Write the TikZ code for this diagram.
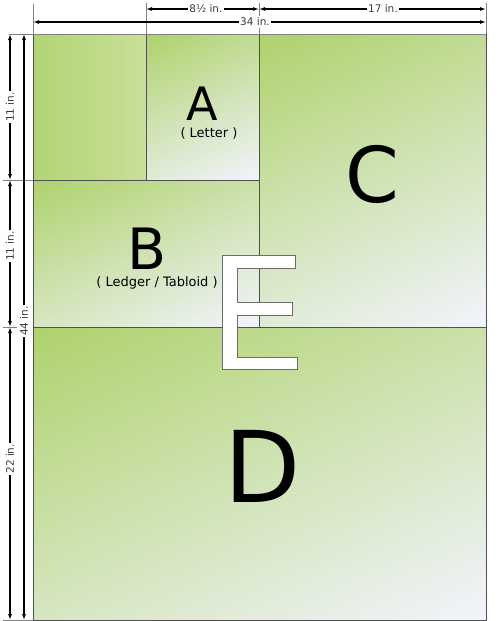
\documentclass[tikz,border=0pt]{standalone}
\usepackage{fontspec}
\setmainfont{DejaVu Sans}
\usetikzlibrary{arrows.meta}
\definecolor{gA}{RGB}{174,210,108}
\definecolor{gB}{RGB}{242,244,253}
\colorlet{gM}{gA!50!gB}
\definecolor{gL}{RGB}{178,212,116}
\definecolor{gR}{RGB}{200,224,152}
\definecolor{edge}{RGB}{80,80,80}
\definecolor{dimtext}{RGB}{60,60,60}
% gradient sheet: green at top-left corner, light at bottom-right corner,
% gradient direction 65 degrees below the horizontal
\newcommand{\sheetrect}[4]{%
  \pgfmathsetmacro{\sW}{#3-#1}%
  \pgfmathsetmacro{\sH}{#4-#2}%
  \pgfmathsetmacro{\sCx}{(#1+#3)/2}%
  \pgfmathsetmacro{\sCy}{(#2+#4)/2}%
  \pgfmathsetmacro{\sG}{(\sW*cos(65)+\sH*sin(65))/2}%
  \pgfmathsetmacro{\sBig}{\sW+\sH}%
  \begin{scope}
    \clip (#1,#2) rectangle (#3,#4);
    \shade[top color=gA,bottom color=gB,middle color=gM,
      transform canvas={rotate around={25:(\sCx,\sCy)}}]
      (\sCx-\sBig,\sCy-\sG) rectangle (\sCx+\sBig,\sCy+\sG);
  \end{scope}
  \draw[draw=edge,line width=0.9pt] (#1,#2) rectangle (#3,#4);
}
\begin{document}
\begin{tikzpicture}[x=1pt,y=-1pt,
  dimline/.style={line width=1.1pt,{Latex[length=6pt,width=4pt]}-{Latex[length=6pt,width=4pt]}},
  extline/.style={draw=gray,line width=0.8pt},
  dimlabel/.style={fill=white,inner sep=1.5pt,text=dimtext,font=\fontsize{10.5}{12}\selectfont},
  sublabel/.style={inner sep=0pt,font=\fontsize{13}{15}\selectfont},
  bigletter/.style={inner sep=0pt,font=\fontsize{#1}{#1}\selectfont}
]
\useasboundingbox (0,0) rectangle (500,621);
\fill[white] (0,0) rectangle (500,621);

% corner coordinates
\coordinate (x0) at (33,34);
\coordinate (xA) at (146,34);
\coordinate (xC) at (259,34);
\coordinate (x1) at (486,34);
\coordinate (yB) at (33,180);
\coordinate (yD) at (33,327);
\coordinate (y1) at (33,620);

% sheets
\path[draw=edge,line width=0.9pt,left color=gL,right color=gR] (33,34) rectangle (146,180);
\sheetrect{146}{34}{259}{180}
\sheetrect{33}{180}{259}{327}
\sheetrect{259}{34}{486}{327}
\sheetrect{33}{327}{486}{620}
\draw[gray,line width=0.8pt] (x0) -- (x1);

% letter E
\path[fill=white,draw=gray!85!black,line width=0.9pt]
  (222,255) -- (295,255) -- (295,268) -- (237,268) -- (237,302) -- (292,302)
  -- (292,315) -- (237,315) -- (237,357) -- (297,357) -- (297,369) -- (222,369) -- cycle;

% labels
\node[bigletter=46] (A) at (202,103.5) {A};
\node[sublabel] (Asub) at (209,133) {( Letter )};
\node[bigletter=57] (B) at (147,248.5) {B};
\node[sublabel] (Bsub) at (157,282.5) {( Ledger / Tabloid )};
\node[bigletter=77] (C) at (372,174) {C};
\node[bigletter=99] (D) at (263,466) {D};

% top extension lines
\coordinate (t0) at (33,4);
\coordinate (tA) at (146,3);
\coordinate (tC) at (259,3);
\coordinate (t1) at (486,3);
\draw[extline] (t0) -- (x0);
\draw[extline] (tA) -- (xA);
\draw[extline] (tC) -- (xC);
\draw[extline] (t1) -- (x1);

% top dimension lines
\coordinate (a1) at (146,9);
\coordinate (a2) at (259,9);
\coordinate (a3) at (486,9);
\coordinate (b1) at (33,22);
\coordinate (b2) at (486,22);
\draw[dimline] (a1) -- (a2) node[pos=0.53,dimlabel] (l1) {8½ in.};
\draw[dimline] (a2) -- (a3) node[pos=0.546,dimlabel] (l2) {17 in.};
\draw[dimline] (b1) -- (b2) node[pos=0.49,dimlabel] (l3) {34 in.};

% left extension lines
\coordinate (e0) at (9,34);
\coordinate (e1) at (3,180);
\coordinate (e2) at (3,327);
\coordinate (e2r) at (17,327);
\coordinate (e3) at (3,620);
\draw[extline] (e0) -- (x0);
\draw[extline] (e1) -- (yB);
\draw[extline] (e2) -- (e2r);
\draw[extline] (e3) -- (y1);

% left dimension lines
\coordinate (v0) at (10,34);
\coordinate (v1) at (10,180);
\coordinate (v2) at (10,327);
\coordinate (v3) at (10,620);
\coordinate (w0) at (24,34);
\coordinate (w1) at (24,620);
\draw[dimline] (v0) -- (v1) node[pos=0.5,dimlabel,rotate=90] (l4) {11 in.};
\draw[dimline] (v1) -- (v2) node[pos=0.45,dimlabel,rotate=90] (l5) {11 in.};
\draw[dimline] (v2) -- (v3) node[pos=0.45,dimlabel,rotate=90] (l6) {22 in.};
\draw[dimline] (w0) -- (w1) node[pos=0.49,dimlabel,rotate=90] (l7) {44 in.};
\end{tikzpicture}
\end{document}
